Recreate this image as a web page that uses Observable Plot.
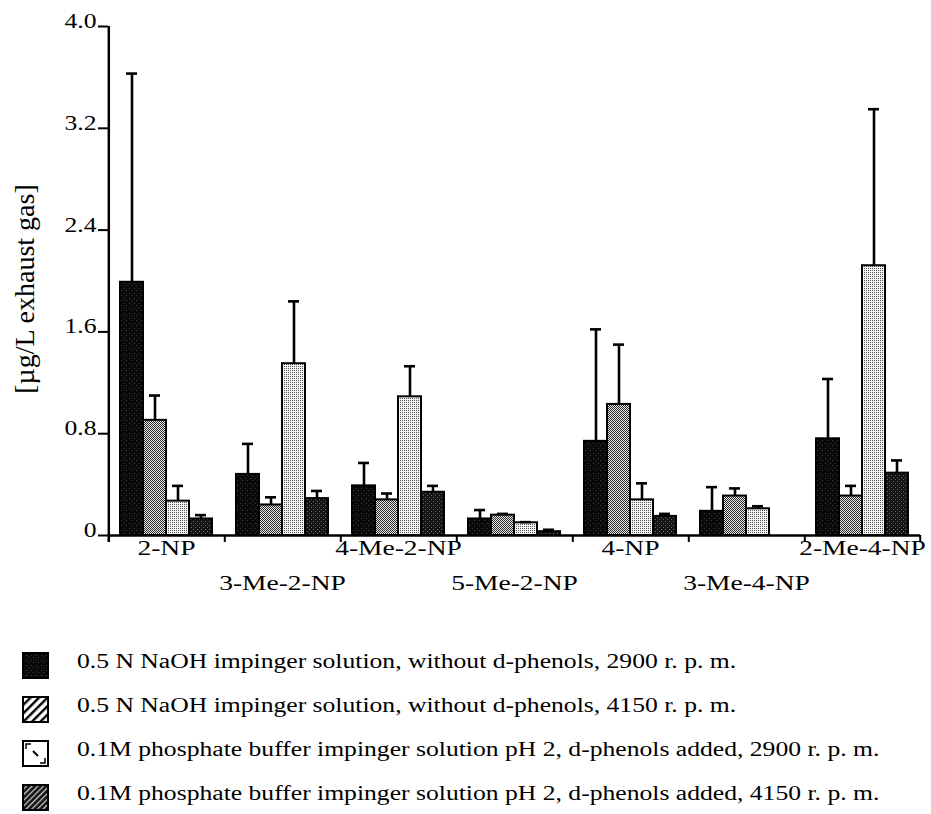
<!DOCTYPE html>
<html>
<head>
<meta charset="utf-8">
<script src="https://cdn.jsdelivr.net/npm/d3@7"></script>
<script src="https://cdn.jsdelivr.net/npm/@observablehq/plot@0.6"></script>
<style>
  html, body { margin: 0; padding: 0; background: #fff; }
  body { width: 931px; height: 814px; overflow: hidden; font-family: "Liberation Serif", "Times New Roman", serif; color: #000; }
  #chart svg { display: block; }
  #legend { padding-top: 28px; }
  .row { height: 44px; display: flex; align-items: center; }
  .row svg { margin-left: 22px; flex: none; }
  .row span { display: inline-block; margin-left: 28px; font-size: 20.5px; white-space: nowrap; transform: scaleX(1.25); transform-origin: left center; position: relative; top: -4px; }
</style>
</head>
<body>
<svg width="0" height="0" style="position:absolute">
  <defs>
    <pattern id="pat-s1" width="5" height="5" patternUnits="userSpaceOnUse">
      <rect width="5" height="5" fill="#0a0a0a"/>
      <rect x="1" y="0" width="1" height="1" fill="#3a3a3a"/>
      <rect x="4" y="3" width="1" height="1" fill="#3a3a3a"/>
    </pattern>
    <pattern id="pat-s2" width="2" height="2" patternUnits="userSpaceOnUse">
      <rect width="2" height="2" fill="#e8e8e8"/>
      <rect x="0" y="0" width="1" height="1" fill="#2a2a2a"/>
      <rect x="1" y="1" width="1" height="1" fill="#2a2a2a"/>
    </pattern>
    <pattern id="pat-s3" width="2" height="2" patternUnits="userSpaceOnUse">
      <rect width="2" height="2" fill="#f4f4f4"/>
      <rect x="0" y="0" width="1" height="1" fill="#555"/>
    </pattern>
    <pattern id="pat-s4" width="4" height="4" patternUnits="userSpaceOnUse">
      <rect width="4" height="4" fill="#141414"/>
      <rect x="1" y="1" width="1" height="1" fill="#666"/>
      <rect x="3" y="3" width="1" height="1" fill="#666"/>
    </pattern>
    <pattern id="leg-s2" width="6" height="6" patternUnits="userSpaceOnUse" patternTransform="rotate(45)">
      <rect width="6" height="6" fill="#fff"/>
      <rect width="2.4" height="6" fill="#000"/>
    </pattern>
    <pattern id="leg-s4" width="4" height="4" patternUnits="userSpaceOnUse" patternTransform="rotate(45)">
      <rect width="4" height="4" fill="#111"/>
      <rect width="1.3" height="4" fill="#c8c8c8"/>
    </pattern>
  </defs>
</svg>
<div id="chart"></div>
<div id="legend"></div>
<script>
// ---------- data ----------
const compounds = ["2-NP", "3-Me-2-NP", "4-Me-2-NP", "5-Me-2-NP", "4-NP", "3-Me-4-NP", "2-Me-4-NP"];
const seriesKeys = ["NaOH 2900", "NaOH 4150", "Phosphate 2900", "Phosphate 4150"];
const seriesLabels = [
  "0.5 N NaOH impinger solution, without d-phenols, 2900 r. p. m.",
  "0.5 N NaOH impinger solution, without d-phenols, 4150 r. p. m.",
  "0.1M phosphate buffer impinger solution pH 2, d-phenols added, 2900 r. p. m.",
  "0.1M phosphate buffer impinger solution pH 2, d-phenols added, 4150 r. p. m."
];
// mean values [µg/L exhaust gas]
const meanNaOH2900      = [1.99, 0.48, 0.39, 0.13, 0.74, 0.19, 0.76];
const meanNaOH4150      = [0.905, 0.24, 0.28, 0.16, 1.03, 0.31, 0.31];
const meanPhosphate2900 = [0.27, 1.35, 1.09, 0.10, 0.28, 0.21, 2.12];
const meanPhosphate4150 = [0.13, 0.29, 0.34, 0.03, 0.15, 0, 0.49];
// standard deviations (upper error bars)
const sdNaOH2900      = [1.64, 0.24, 0.18, 0.07, 0.88, 0.19, 0.47];
const sdNaOH4150      = [0.195, 0.06, 0.05, 0.01, 0.47, 0.06, 0.08];
const sdPhosphate2900 = [0.12, 0.49, 0.24, 0.005, 0.13, 0.02, 1.23];
const sdPhosphate4150 = [0.03, 0.06, 0.05, 0.015, 0.02, 0, 0.10];

const yTicks = [0, 0.8, 1.6, 2.4, 3.2, 4.0];
const yTickLabels = ["0", "0.8", "1.6", "2.4", "3.2", "4.0"];
const yLabel = "[µg/L exhaust gas]";

const barPatterns = ["url(#pat-s1)", "url(#pat-s2)", "url(#pat-s3)", "url(#pat-s4)"];
const legendPatterns = ["url(#pat-s1)", "url(#leg-s2)", "#fff", "url(#leg-s4)"];

// ---------- table ----------
const means = [meanNaOH2900, meanNaOH4150, meanPhosphate2900, meanPhosphate4150];
const sds = [sdNaOH2900, sdNaOH4150, sdPhosphate2900, sdPhosphate4150];
const table = [];
compounds.forEach((c, ci) => seriesKeys.forEach((s, si) => {
  table.push({compound: c, series: s, value: means[si][ci], sd: sds[si][ci]});
}));
const bars = table.filter(d => d.value > 0);
const errs = table.filter(d => d.sd > 0);

// ---------- layout ----------
const W = 931, H = 615, ML = 108, MR = 11, MT = 26, MB = 80;
const PAD_OUT = 0.5;
const bw = (W - ML - MR) / compounds.length / (seriesKeys.length + 2 * PAD_OUT);
const STRETCH = 1.25;

const chart = Plot.plot({
  width: W, height: H,
  marginLeft: ML, marginRight: MR, marginTop: MT, marginBottom: MB,
  style: {fontFamily: "'Liberation Serif', 'Times New Roman', serif", color: "#000", background: "#fff", overflow: "visible"},
  fx: {domain: compounds, padding: 0, axis: null, label: null},
  x: {domain: seriesKeys, paddingInner: 0, paddingOuter: PAD_OUT, axis: null},
  y: {domain: [0, 4], axis: null},
  color: {domain: seriesKeys, range: barPatterns},
  marks: [
    Plot.barY(bars, {fx: "compound", x: "series", y: "value", fill: "series", stroke: "#000", strokeWidth: 2}),
    Plot.ruleX(errs, {fx: "compound", x: "series", y1: "value", y2: d => d.value + d.sd, stroke: "#000", strokeWidth: 2.6}),
    Plot.tickY(errs, {fx: "compound", x: "series", y: d => d.value + d.sd, stroke: "#000", strokeWidth: 2.6, insetLeft: 6, insetRight: 6}),
    // x axis line
    Plot.ruleY([0], {stroke: "#000", strokeWidth: 2.5}),
    // group boundary ticks
    Plot.ruleX(compounds, {fx: d => d, x: () => seriesKeys[0], y1: 0, y2: 0, insetTop: 7, dx: -bw, stroke: "#000", strokeWidth: 2}),
    Plot.ruleX([compounds[compounds.length - 1]], {fx: d => d, x: () => seriesKeys[seriesKeys.length - 1], y1: 0, y2: 0, insetTop: 7, dx: bw, stroke: "#000", strokeWidth: 2}),
    // y axis line
    Plot.ruleX([compounds[0]], {fx: d => d, x: () => seriesKeys[0], y1: 0, y2: 4, insetTop: 7, dx: -bw, stroke: "#000", strokeWidth: 2.5}),
    // y ticks and labels
    Plot.axisY({ticks: yTicks, tickSize: 10, tickFormat: () => "", strokeWidth: 2, label: null}),
    Plot.axisY({ticks: yTicks, tickSize: 0, tickPadding: 12, dy: -5, fontSize: 20.5, tickFormat: d => yTickLabels[yTicks.indexOf(d)], label: null}),
    // y label
    Plot.text([yLabel], {fx: () => compounds[0], text: d => d, frameAnchor: "left", textAnchor: "middle", rotate: -90, dx: -83, dy: 8, fontSize: 28}),
    // category labels (staggered)
    Plot.text(compounds.filter((d, i) => i % 2 === 0), {fx: d => d, text: d => d, frameAnchor: "bottom", dy: 19, fontSize: 22}),
    Plot.text(compounds.filter((d, i) => i % 2 === 1), {fx: d => d, text: d => d, frameAnchor: "bottom", dy: 54, fontSize: 22})
  ]
});

// horizontal stretch of the printed typeface (not the rotated y label)
chart.querySelectorAll("text").forEach(t => {
  if (t.textContent === yLabel) return;
  const tr = t.getAttribute("transform");
  if (tr) t.setAttribute("transform", tr + ` scale(${STRETCH},1)`);
});
document.getElementById("chart").appendChild(chart);

// ---------- legend ----------
const legend = document.getElementById("legend");
seriesLabels.forEach((label, i) => {
  const row = document.createElement("div");
  row.className = "row";
  let extra = "";
  if (i === 2) extra = '<line x1="11" y1="11" x2="16" y2="16" stroke="#000" stroke-width="2"/><path d="M4 9 L4 4 L9 4 M18 23 L23 23 L23 18" fill="none" stroke="#000" stroke-width="1.5"/>';
  row.innerHTML = `<svg width="27" height="27"><rect x="1" y="1" width="25" height="25" fill="${legendPatterns[i]}" stroke="#000" stroke-width="2"/>${extra}</svg><span>${label}</span>`;
  legend.appendChild(row);
});
</script>
</body>
</html>
